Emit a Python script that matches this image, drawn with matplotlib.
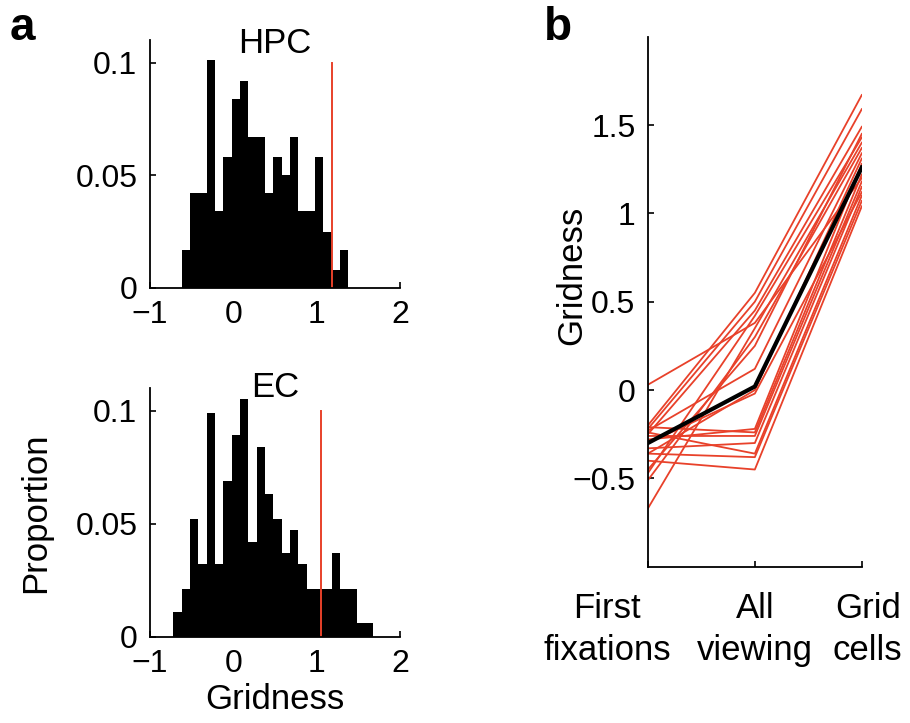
import matplotlib
matplotlib.use('Agg')
import matplotlib.pyplot as plt
import matplotlib.transforms as mtransforms
import numpy as np

plt.rcParams['font.family'] = ['Liberation Sans', 'DejaVu Sans']

# panel a: histogram of gridness (proportion per bin)
hpc_start = -0.62
hpc_props = [0.017, 0.042, 0.042, 0.101, 0.034, 0.058, 0.084, 0.092, 0.067, 0.067,
             0.042, 0.058, 0.050, 0.067, 0.034, 0.034, 0.058, 0.025, 0.008, 0.017]
hpc_thresh = 1.18

ec_start = -0.72
ec_props = [0.011, 0.021, 0.052, 0.032, 0.099, 0.032, 0.069, 0.089, 0.105, 0.042,
            0.084, 0.063, 0.052, 0.037, 0.047, 0.032, 0.021, 0.021, 0.021, 0.037,
            0.021, 0.021, 0.006, 0.006]
ec_thresh = 1.05
bin_width = 0.1

# panel b: gridness per subject (first fixations, all viewing, grid cells)
conditions = ['First\nfixations', 'All\nviewing', 'Grid\ncells']
first_fix = [0.03, -0.20, -0.22, -0.25, -0.47, -0.67, -0.51, -0.23, -0.36,
             -0.21, -0.26, -0.33, -0.24, -0.36, -0.40, -0.28, -0.45, -0.30]
all_view = [0.38, 0.55, 0.50, 0.45, 0.42, 0.35, 0.30, 0.12, 0.00,
            -0.24, -0.26, -0.30, -0.36, -0.38, -0.45, -0.22, 0.25, -0.02]
grid_cells = [1.20, 1.67, 1.59, 1.49, 1.43, 1.40, 1.37, 1.34, 1.31,
              1.22, 1.18, 1.15, 1.10, 1.07, 1.04, 1.28, 1.45, 1.12]
mean_line = [-0.30, 0.02, 1.26]

RED = '#e8412a'
TICK_FS = 23
LABEL_FS = 25

fig = plt.figure(figsize=(9.1, 7.23), dpi=100)


def style_axes(ax):
    for side in ['top', 'right']:
        ax.spines[side].set_visible(False)
    for side in ['left', 'bottom']:
        ax.spines[side].set_linewidth(1.3)
    ax.tick_params(direction='in', length=4, width=1.2, labelsize=TICK_FS, pad=9)


def hist_panel(ax, start, props, thresh, title, title_y):
    edges = start + bin_width * np.arange(len(props))
    ax.bar(edges, props, width=bin_width, align='edge', color='black', linewidth=0)
    ax.plot([thresh, thresh], [0, 0.1], color=RED, lw=1.4)
    ax.set_xlim(-1, 2)
    ax.set_ylim(0, 0.11)
    ax.set_xticks([-1, 0, 1, 2])
    ax.set_yticks([0, 0.05, 0.1])
    ax.set_yticklabels(['0', '0.05', '0.1'])
    style_axes(ax)
    ax.text(0.5, title_y, title, transform=ax.transAxes, ha='center', va='center',
            fontsize=LABEL_FS)


ax1 = fig.add_axes([0.1648, 0.6017, 0.2747, 0.343])
hist_panel(ax1, hpc_start, hpc_props, hpc_thresh, 'HPC', 0.985)

ax2 = fig.add_axes([0.1648, 0.1194, 0.2747, 0.344])
hist_panel(ax2, ec_start, ec_props, ec_thresh, 'EC', 1.0)
ax2.set_xlabel('Gridness', fontsize=LABEL_FS, labelpad=3)
ax2.set_ylabel('Proportion', fontsize=LABEL_FS, labelpad=17)

# panel b
ax3 = fig.add_axes([0.712, 0.2162, 0.235, 0.733])
xs = [1, 2, 3]
for a, b, c in zip(first_fix, all_view, grid_cells):
    ax3.plot(xs, [a, b, c], color=RED, lw=1.3)
ax3.plot(xs, mean_line, color='black', lw=3.0)
ax3.set_xlim(1, 3)
ax3.set_ylim(-1, 2)
ax3.set_xticks(xs)
ax3.set_xticklabels(conditions, linespacing=1.35)
ax3.set_yticks([-0.5, 0, 0.5, 1, 1.5])
ax3.set_yticklabels(['\u22120.5', '0', '0.5', '1', '1.5'])
style_axes(ax3)
ax3.tick_params(axis='x', pad=18, labelsize=LABEL_FS)
ax3.set_ylabel('Gridness', fontsize=LABEL_FS)
ax3.yaxis.set_label_coords(-0.28, 0.55)

# nudge the outer category labels
for lab, dx in zip(ax3.get_xticklabels(), [-41, 0, 6]):
    lab.set_transform(lab.get_transform() +
                      mtransforms.ScaledTranslation(dx / 100, 0, fig.dpi_scale_trans))

fig.text(0.011, 0.945, 'a', fontsize=33, fontweight='bold', va='baseline')
fig.text(0.598, 0.945, 'b', fontsize=33, fontweight='bold', va='baseline')

fig.savefig('out.png', dpi=100)
